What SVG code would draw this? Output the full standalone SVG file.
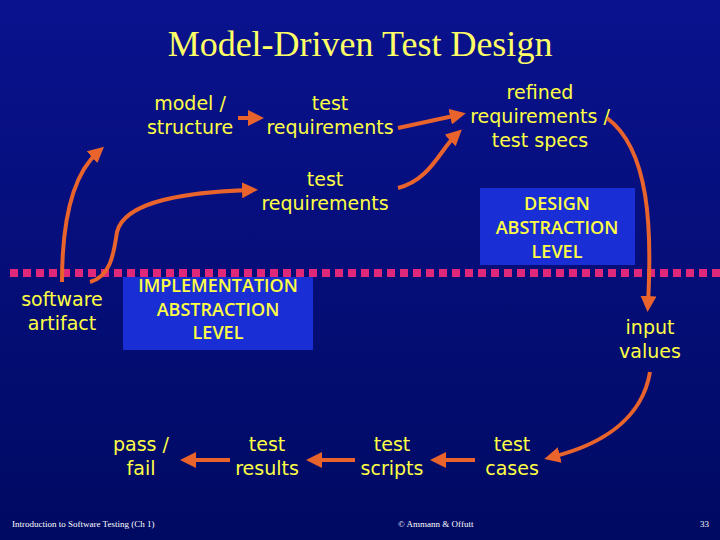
<svg xmlns="http://www.w3.org/2000/svg" width="720" height="540" viewBox="0 0 720 540">
<defs>
<linearGradient id="bg" x1="0" y1="0" x2="0" y2="1"><stop offset="0" stop-color="#0a128e"/><stop offset="1" stop-color="#000a62"/></linearGradient>
<marker id="ah" viewBox="0 0 10 10" refX="5" refY="5" markerWidth="4" markerHeight="4" orient="auto"><path d="M0,0 L10,5 L0,10 z" fill="#e8642c"/></marker>
<style>
.t{font-family:"DejaVu Sans",sans-serif;font-size:19px;fill:#ffff44;text-anchor:middle}
.b{font-family:"Open Sans","DejaVu Sans",sans-serif;font-size:18px;fill:#ffff44;text-anchor:middle;font-weight:600}
.a{fill:none;stroke:#e8642c;stroke-width:4;marker-end:url(#ah)}
.f{font-family:"Liberation Serif",serif;font-size:9px;fill:#ffffff}
</style>
</defs>
<rect width="720" height="540" fill="url(#bg)"/>
<text x="360" y="56" font-family="Liberation Serif,serif" font-size="36" fill="#ffff66" text-anchor="middle">Model-Driven Test Design</text>
<line x1="10" y1="273" x2="720" y2="273" stroke="#e0287a" stroke-width="8" stroke-dasharray="8,5"/>
<g id="impl"><rect x="123" y="277" width="190" height="73" fill="#1a2ed6"/><text class="b" x="218" y="292">IMPLEMENTATION</text><text class="b" x="218" y="316">ABSTRACTION</text><text class="b" x="218" y="339">LEVEL</text></g>
<g id="design"><rect x="480" y="188" width="155" height="77" fill="#1a2ed6"/><text class="b" x="557" y="210">DESIGN</text><text class="b" x="557" y="234">ABSTRACTION</text><text class="b" x="557" y="258">LEVEL</text></g>
<g id="model"><text class="t" x="190" y="110">model /</text><text class="t" x="190" y="134">structure</text></g>
<g id="treq1"><text class="t" x="330" y="110">test</text><text class="t" x="330" y="134">requirements</text></g>
<g id="refined"><text class="t" x="540" y="99">refined</text><text class="t" x="540" y="123">requirements /</text><text class="t" x="540" y="147">test specs</text></g>
<g id="treq2"><text class="t" x="325" y="186">test</text><text class="t" x="325" y="210">requirements</text></g>
<g id="sw"><text class="t" x="62" y="306">software</text><text class="t" x="62" y="330">artifact</text></g>
<g id="input"><text class="t" x="650" y="334">input</text><text class="t" x="650" y="358">values</text></g>
<g id="pass"><text class="t" x="141" y="451">pass /</text><text class="t" x="141" y="475">fail</text></g>
<g id="results"><text class="t" x="267" y="451">test</text><text class="t" x="267" y="475">results</text></g>
<g id="scripts"><text class="t" x="392" y="451">test</text><text class="t" x="392" y="475">scripts</text></g>
<g id="cases"><text class="t" x="512" y="451">test</text><text class="t" x="512" y="475">cases</text></g>
<g id="connectors">
<path class="a" d="M62,282 C62,220 72,175 98,152"/>
<path class="a" d="M90,282 C112,276 114,250 117,232 C125,200 190,192 250,190"/>
<path class="a" d="M238,118 L256,118"/>
<path class="a" d="M398,128 L458,115"/>
<path class="a" d="M398,188 C430,180 440,150 456,135"/>
<path class="a" d="M607,118 C650,150 652,230 648,304"/>
<path class="a" d="M650,372 C642,420 600,445 552,457"/>
<path class="a" d="M475,460 L438,460"/>
<path class="a" d="M355,460 L314,460"/>
<path class="a" d="M230,460 L188,460"/>
</g>
<text class="f" x="12" y="527">Introduction to Software Testing (Ch 1)</text>
<text class="f" x="398" y="527">© Ammann &amp; Offutt</text>
<text class="f" x="700" y="527">33</text>
</svg>
